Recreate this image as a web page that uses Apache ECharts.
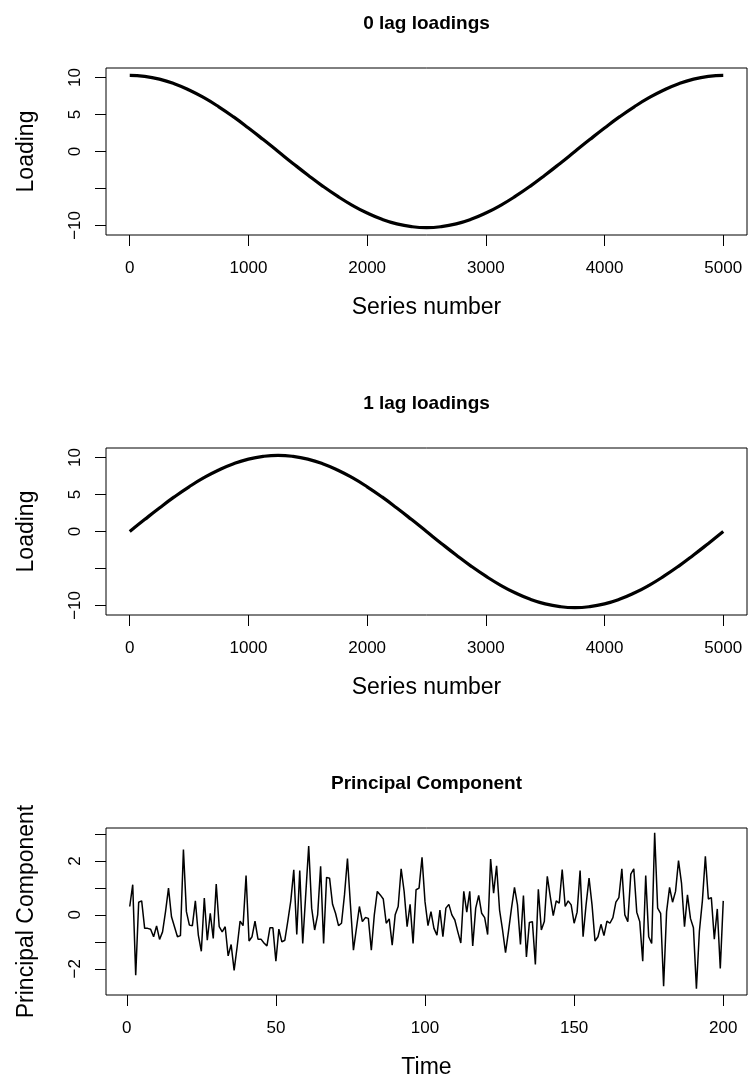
<!DOCTYPE html>
<html><head><meta charset="utf-8">
<script src="https://cdn.jsdelivr.net/npm/echarts@6/dist/echarts.min.js"></script>
<style>html,body{margin:0;padding:0;background:#fff}#c{width:751px;height:1085px}</style>
</head><body><div id="c"></div>
<script>
// ---- data ----
const seriesNumber = [0,125,250,375,500,625,750,875,1000,1125,1250,1375,1500,1625,1750,1875,2000,2125,2250,2375,2500,2625,2750,2875,3000,3125,3250,3375,3500,3625,3750,3875,4000,4125,4250,4375,4500,4625,4750,4875,5000];
const lag0Loadings = [10.30,10.17,9.80,9.18,8.33,7.28,6.05,4.68,3.18,1.61,0.00,-1.61,-3.18,-4.68,-6.05,-7.28,-8.33,-9.18,-9.80,-10.17,-10.30,-10.17,-9.80,-9.18,-8.33,-7.28,-6.05,-4.68,-3.18,-1.61,0.00,1.61,3.18,4.68,6.05,7.28,8.33,9.18,9.80,10.17,10.30];
const lag1Loadings = [0.00,1.61,3.18,4.68,6.05,7.28,8.33,9.18,9.80,10.17,10.30,10.17,9.80,9.18,8.33,7.28,6.05,4.68,3.18,1.61,0.00,-1.61,-3.18,-4.68,-6.05,-7.28,-8.33,-9.18,-9.80,-10.17,-10.30,-10.17,-9.80,-9.18,-8.33,-7.28,-6.05,-4.68,-3.18,-1.61,0.00];
const principalComponent = [
0.31,1.12,-2.24,0.47,0.52,-0.50,-0.50,-0.53,-0.81,-0.41,
-0.91,-0.63,0.12,0.99,-0.07,-0.44,-0.81,-0.77,2.42,0.12,
-0.38,-0.40,0.52,-0.75,-1.35,0.62,-0.94,0.06,-0.87,1.14,
-0.44,-0.63,-0.44,-1.52,-1.10,-2.06,-1.19,-0.23,-0.40,1.46,
-0.97,-0.81,-0.23,-0.90,-0.90,-1.04,-1.15,-0.48,-0.48,-1.72,
-0.53,-1.00,-0.94,-0.23,0.52,1.67,-0.73,1.64,-1.06,0.74,
2.55,0.25,-0.56,0.00,1.80,-1.06,1.39,1.36,0.39,0.06,
-0.40,-0.31,0.74,2.09,0.37,-1.31,-0.50,0.31,-0.25,-0.10,
-0.13,-1.31,0.00,0.87,0.74,0.59,-0.31,-0.15,-1.12,0.00,
0.31,1.71,0.87,-0.44,0.39,-1.06,0.93,0.99,2.13,0.49,
-0.40,0.12,-0.50,-0.75,0.18,-0.81,0.25,0.39,0.00,-0.19,
-0.63,-1.04,0.87,0.10,0.87,-1.15,0.25,0.72,0.06,-0.10,
-0.73,2.07,0.80,1.82,0.18,-0.56,-1.40,-0.60,0.25,1.02,
0.37,-1.10,0.72,-1.56,-0.28,-0.25,-1.84,0.95,-0.56,-0.25,
1.43,0.68,-0.03,0.52,0.43,1.68,0.31,0.52,0.37,-0.31,
0.10,1.64,-0.81,0.37,1.36,0.37,-0.97,-0.81,-0.35,-0.77,
-0.23,-0.31,-0.10,0.47,0.64,1.71,0.00,-0.25,1.51,1.71,
0.10,-0.25,-1.72,1.46,-0.81,-1.06,3.04,0.25,0.06,-2.64,
0.12,1.02,0.47,0.87,2.01,1.18,-0.44,0.74,-0.13,-0.48,
-2.74,-0.60,0.52,2.17,0.59,0.64,-0.90,0.22,-1.99,0.52];
const seriesTicks = [0,1000,2000,3000,4000,5000];
const loadingTicks = [-10,-5,0,5,10];
const loadingLabels = [-10,0,5,10];
const timeTicks = [0,50,100,150,200];
const pcTicks = [-2,-1,0,1,2,3];
const pcLabels = [-2,0,2];
const titles = ['0 lag loadings','1 lag loadings','Principal Component'];

// ---- layout ----
const FONT = "'Liberation Sans', Arial, Helvetica, sans-serif";
const L = 106, W = 641, H = 167;
const tops = [68, 448, 828];
const minus = v => String(v).replace('-', '\u2212');

function xAxisOf(i, min, max, ticks, name) {
  return {
    type:'value', gridIndex:i, min:min, max:max,
    splitLine:{show:false}, axisLine:{show:false, onZero:false},
    axisTick:{show:true, length:11, inside:false, lineStyle:{color:'#000', width:1}, customValues:ticks},
    axisLabel:{show:true, customValues:ticks, color:'#000', fontFamily:FONT, fontSize:17, margin:25, formatter:minus},
    name:name, nameLocation:'middle', nameGap:61,
    nameTextStyle:{color:'#000', fontFamily:FONT, fontSize:23}
  };
}
function yAxisOf(i, min, max, ticks, labels, name) {
  return {
    type:'value', gridIndex:i, min:min, max:max,
    splitLine:{show:false}, axisLine:{show:false, onZero:false},
    axisTick:{show:true, length:11, inside:false, lineStyle:{color:'#000', width:1}, customValues:ticks},
    axisLabel:{show:true, customValues:labels, rotate:90, color:'#000', fontFamily:FONT, fontSize:17, margin:22, formatter:minus},
    name:name, nameLocation:'middle', nameGap:68, nameRotate:90,
    nameTextStyle:{color:'#000', fontFamily:FONT, fontSize:23}
  };
}

const chart = echarts.init(document.getElementById('c'), null, {renderer:'canvas'});
chart.setOption({
  animation:false,
  backgroundColor:'#fff',
  title: titles.map((t,i)=>({
    text:t, left:L+W/2, top:tops[i]-54, textAlign:'center', padding:0,
    textStyle:{color:'#000', fontFamily:FONT, fontSize:19, fontWeight:'bold'}
  })),
  grid: tops.map(t=>({left:L, top:t, width:W, height:H, show:true, borderColor:'#000', borderWidth:1, backgroundColor:'transparent', containLabel:false})),
  xAxis:[
    xAxisOf(0, -200, 5200, seriesTicks, 'Series number'),
    xAxisOf(1, -200, 5200, seriesTicks, 'Series number'),
    xAxisOf(2, -6.96, 207.96, timeTicks, 'Time')
  ],
  yAxis:[
    yAxisOf(0, -11.3, 11.3, loadingTicks, loadingLabels, 'Loading'),
    yAxisOf(1, -11.3, 11.3, loadingTicks, loadingLabels, 'Loading'),
    yAxisOf(2, -2.97, 3.22, pcTicks, pcLabels, 'Principal Component')
  ],
  series:[
    {type:'line', xAxisIndex:0, yAxisIndex:0, data:seriesNumber.map((x,k)=>[x,lag0Loadings[k]]), smooth:true, showSymbol:false, lineStyle:{color:'#000', width:3.2}},
    {type:'line', xAxisIndex:1, yAxisIndex:1, data:seriesNumber.map((x,k)=>[x,lag1Loadings[k]]), smooth:true, showSymbol:false, lineStyle:{color:'#000', width:3.2}},
    {type:'line', xAxisIndex:2, yAxisIndex:2, data:principalComponent.map((v,k)=>[k+1,v]), showSymbol:false, lineStyle:{color:'#000', width:1.5}}
  ]
});
</script></body></html>
